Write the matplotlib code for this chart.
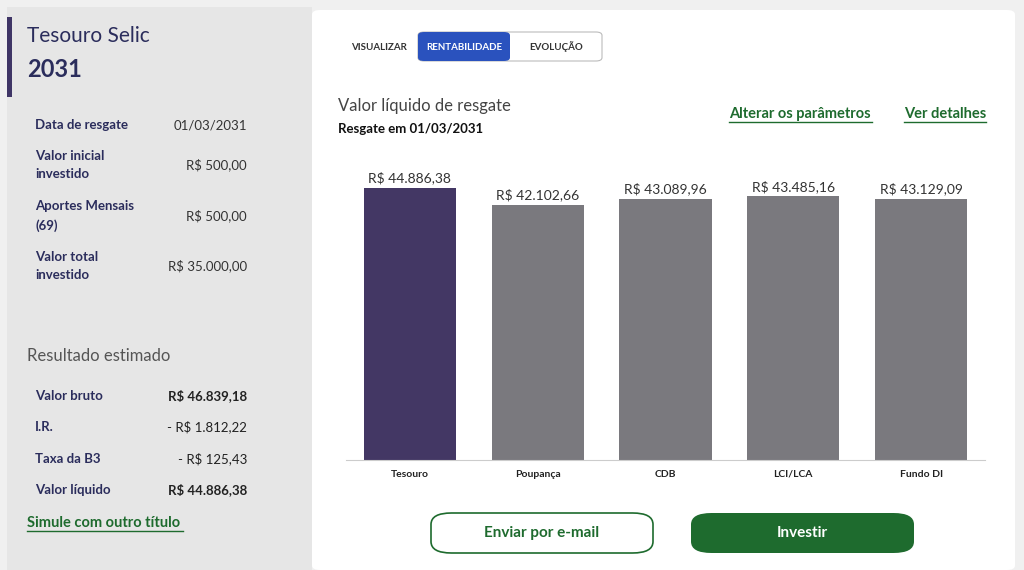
import matplotlib.pyplot as plt
from matplotlib.patches import FancyBboxPatch, Rectangle

plt.rcParams['font.family'] = 'Lato'

categories = ['Tesouro', 'Poupança', 'CDB', 'LCI/LCA', 'Fundo DI']
values = [44886.38, 42102.66, 43089.96, 43485.16, 43129.09]
value_labels = ['R$ 44.886,38', 'R$ 42.102,66', 'R$ 43.089,96', 'R$ 43.485,16', 'R$ 43.129,09']

summary_labels = ['Data de resgate', 'Valor inicial\ninvestido', 'Aportes Mensais\n(69)', 'Valor total\ninvestido']
summary_values = ['01/03/2031', 'R$ 500,00', 'R$ 500,00', 'R$ 35.000,00']
result_labels = ['Valor bruto', 'I.R.', 'Taxa da B3', 'Valor líquido']
result_values = ['R$ 46.839,18', '- R$ 1.812,22', '- R$ 125,43', 'R$ 44.886,38']

W, H = 1024, 570
navy = '#2b2d5c'
green = '#1e6b2e'

fig = plt.figure(figsize=(W / 100, H / 100), dpi=100)
fig.patch.set_facecolor('#f0f0f0')


def px(x, y):
    return x / W, 1 - y / H


def txt(x, y, s, **kw):
    fx, fy = px(x, y)
    fig.text(fx, fy, s, va='center', **kw)


# panels
fig.patches.append(Rectangle(px(7, 570), 305 / W, 563 / H, transform=fig.transFigure,
                             facecolor='#e6e6e6', edgecolor='none'))
fig.patches.append(Rectangle(px(7, 97), 5 / W, 80 / H, transform=fig.transFigure,
                             facecolor='#3f3566', edgecolor='none'))
fig.patches.append(FancyBboxPatch(px(312, 570), 703 / W, 560 / H, transform=fig.transFigure,
                                  boxstyle='round,pad=0,rounding_size=0.008',
                                  facecolor='white', edgecolor='none'))

# left panel text
txt(27, 36, 'Tesouro Selic', fontsize=15, color=navy)
txt(27, 70, '2031', fontsize=17, color=navy, fontweight='bold')
ys = [125, 165, 216, 266]
for y, l, v in zip(ys, summary_labels, summary_values):
    txt(35, y, l, fontsize=9.5, color=navy, fontweight='bold', linespacing=1.6)
    txt(247, y, v, fontsize=9.5, color='#333', ha='right')
txt(27, 356, 'Resultado estimado', fontsize=12, color='#555')
ys = [396, 427, 459, 490]
for i, (y, l, v) in enumerate(zip(ys, result_labels, result_values)):
    txt(35, y, l, fontsize=9.5, color=navy, fontweight='bold')
    txt(247, y, v, fontsize=9.5, color='#222', ha='right',
        fontweight='bold' if i in (0, 3) else 'normal')
txt(27, 523, 'Simule com outro título', fontsize=10.5, color=green, fontweight='bold')
fig.lines.append(plt.Line2D([27 / W, 183 / W], [1 - 531 / H] * 2, transform=fig.transFigure,
                            color=green, lw=1))

# toggle
txt(351, 47, 'VISUALIZAR', fontsize=7, color='#333', fontweight='bold')
fig.patches.append(FancyBboxPatch(px(418, 61), 184 / W, 29 / H, transform=fig.transFigure,
                                  boxstyle='round,pad=0,rounding_size=0.006',
                                  facecolor='white', edgecolor='#bbbbbb', lw=0.8))
fig.patches.append(FancyBboxPatch(px(418, 61), 92 / W, 29 / H, transform=fig.transFigure,
                                  boxstyle='round,pad=0,rounding_size=0.006',
                                  facecolor='#2a52be', edgecolor='none'))
txt(464, 47, 'RENTABILIDADE', fontsize=7, color='white', fontweight='bold', ha='center')
txt(556, 47, 'EVOLUÇÃO', fontsize=7, color='#333', fontweight='bold', ha='center')

txt(338, 106, 'Valor líquido de resgate', fontsize=12, color='#444')
txt(338, 129, 'Resgate em 01/03/2031', fontsize=9.5, color='#111', fontweight='bold')
for x0, x1, s in [(729, 872, 'Alterar os parâmetros'), (904, 986, 'Ver detalhes')]:
    txt(x0, 114, s, fontsize=10.5, color=green, fontweight='bold')
    fig.lines.append(plt.Line2D([x0 / W, x1 / W], [1 - 122 / H] * 2, transform=fig.transFigure,
                                color=green, lw=1))

# chart
ax = fig.add_axes([346 / W, 110 / H, 639 / W, 310 / H])
ax.set_zorder(5)
colors = ['#433764'] + ['#7a797e'] * 4
bars = ax.bar(range(len(categories)), values, width=0.72, color=colors)
for i, (v, l) in enumerate(zip(values, value_labels)):
    ax.text(i, v + 600, l, ha='center', va='bottom', fontsize=10, color='#333')
ax.set_xlim(-0.5, 4.5)
ax.set_ylim(0, 44886.38 * 310 / 272)
ax.set_xticks(range(len(categories)))
ax.set_xticklabels(categories, fontsize=7.5, fontweight='bold', color='#222')
ax.tick_params(axis='x', length=0, pad=7)
ax.set_yticks([])
for s in ['top', 'right', 'left']:
    ax.spines[s].set_visible(False)
ax.spines['bottom'].set_color('#cccccc')
ax.set_facecolor('none')

# buttons
fig.patches.append(FancyBboxPatch(px(431, 553), 222 / W, 40 / H, transform=fig.transFigure,
                                  boxstyle='round,pad=0,rounding_size=0.02',
                                  facecolor='white', edgecolor=green, lw=1.2))
txt(542, 533, 'Enviar por e-mail', fontsize=11, color=green, fontweight='bold', ha='center')
fig.patches.append(FancyBboxPatch(px(691, 553), 223 / W, 40 / H, transform=fig.transFigure,
                                  boxstyle='round,pad=0,rounding_size=0.02',
                                  facecolor=green, edgecolor='none'))
txt(802, 533, 'Investir', fontsize=11, color='white', fontweight='bold', ha='center')

fig.savefig('out.png', dpi=100, facecolor=fig.get_facecolor())
